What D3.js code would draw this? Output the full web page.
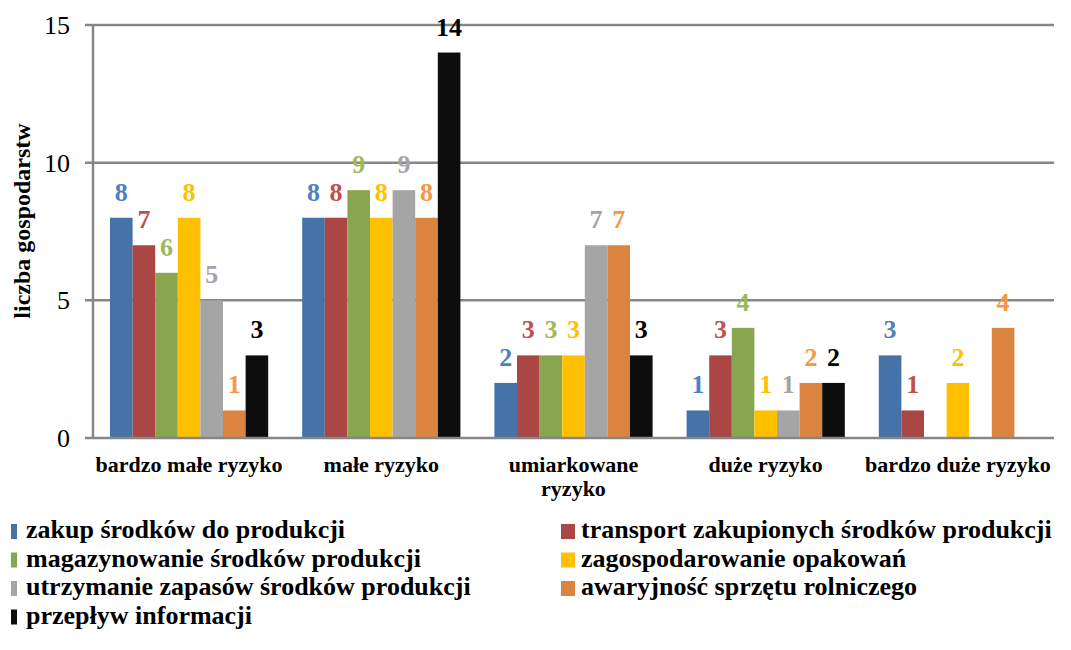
<!DOCTYPE html>
<html>
<head>
<meta charset="utf-8">
<script src="https://cdn.jsdelivr.net/npm/d3@7"></script>
<style>
  body { margin: 0; background: #fff; }
</style>
</head>
<body>
<svg id="chart" width="1071" height="650" font-family="'Liberation Serif', 'DejaVu Serif', 'Times New Roman', serif"></svg>
<script>
// categories and series
const categories = ['bardzo małe ryzyko', 'małe ryzyko', 'umiarkowane ryzyko', 'duże ryzyko', 'bardzo duże ryzyko'];
const categoryLines = [['bardzo małe ryzyko'], ['małe ryzyko'], ['umiarkowane', 'ryzyko'], ['duże ryzyko'], ['bardzo duże ryzyko']];
const seriesNames = [
    'zakup środków do produkcji',
    'transport zakupionych środków produkcji',
    'magazynowanie środków produkcji',
    'zagospodarowanie opakowań',
    'utrzymanie zapasów środków produkcji',
    'awaryjność sprzętu rolniczego',
    'przepływ informacji'
];
const zakup = [8, 8, 2, 1, 3];
const transport = [7, 8, 3, 3, 1];
const magazynowanie = [6, 9, 3, 4, 0];
const opakowania = [8, 8, 3, 1, 2];
const zapasy = [5, 9, 7, 1, 0];
const awaryjnosc = [1, 8, 7, 2, 4];
const informacja = [3, 14, 3, 2, 0];
const yTicks = [0, 5, 10, 15];

const barColors = ['#4572A7', '#AA4643', '#89A54E', '#FFC000', '#A5A5A5', '#DB843D', '#0D0D0D'];
const labelColors = ['#4F81BD', '#C0504D', '#9BBB59', '#FFC000', '#A5A5A5', '#F79646', '#000000'];

const allSeries = [zakup, transport, magazynowanie, opakowania, zapasy, awaryjnosc, informacja];

const plot = {left: 93, right: 1054, top: 25, bottom: 438};
const svg = d3.select('#chart');

const yScale = d3.scaleLinear().domain([0, 15]).range([plot.bottom, plot.top]);
const xScale = d3.scaleBand().domain(categories).range([plot.left, plot.right]).padding(0);
const groupGap = 17;
const innerScale = d3.scaleBand()
        .domain(d3.range(seriesNames.length))
        .range([groupGap, xScale.bandwidth() - groupGap])
        .padding(0);

// gridlines
svg.append('g')
    .selectAll('line')
    .data(yTicks.filter(t => t > 0))
    .enter()
    .append('line')
        .attr('x1', plot.left - 8)
        .attr('x2', plot.right)
        .attr('y1', d => yScale(d))
        .attr('y2', d => yScale(d))
        .attr('stroke', '#868686')
        .attr('stroke-width', 2.5);

// bars
const barData = [];
categories.forEach((cat, i) => {
    allSeries.forEach((s, j) => {
        barData.push({cat: cat, series: j, value: s[i]});
    });
});

svg.append('g')
    .selectAll('rect')
    .data(barData)
    .enter()
    .append('rect')
        .attr('x', d => xScale(d.cat) + innerScale(d.series))
        .attr('y', d => yScale(d.value))
        .attr('width', innerScale.bandwidth())
        .attr('height', d => yScale(0) - yScale(d.value))
        .attr('fill', d => barColors[d.series]);

// value labels
svg.append('g')
    .selectAll('text')
    .data(barData.filter(d => d.value > 0))
    .enter()
    .append('text')
        .attr('x', d => xScale(d.cat) + innerScale(d.series) + innerScale.bandwidth() / 2)
        .attr('y', d => yScale(d.value) - 17)
        .attr('text-anchor', 'middle')
        .attr('font-size', 26)
        .attr('font-weight', 'bold')
        .attr('fill', d => labelColors[d.series])
        .text(d => d.value);

// axes
svg.append('line')
    .attr('x1', plot.left).attr('x2', plot.left)
    .attr('y1', plot.top).attr('y2', plot.bottom)
    .attr('stroke', '#868686').attr('stroke-width', 2.5);
svg.append('line')
    .attr('x1', plot.left - 8).attr('x2', plot.right)
    .attr('y1', plot.bottom).attr('y2', plot.bottom)
    .attr('stroke', '#868686').attr('stroke-width', 2.5);

// y tick labels
svg.append('g')
    .selectAll('text')
    .data(yTicks)
    .enter()
    .append('text')
        .attr('x', 70)
        .attr('y', d => yScale(d) + 9)
        .attr('text-anchor', 'end')
        .attr('font-size', 26)
        .attr('fill', '#000')
        .text(d => d);

// y title
svg.append('text')
    .attr('transform', 'translate(30, 221) rotate(-90)')
    .attr('text-anchor', 'middle')
    .attr('font-size', 24)
    .attr('font-weight', 'bold')
    .text('liczba gospodarstw');

// category labels
const catLabels = svg.append('g')
    .selectAll('text')
    .data(categories)
    .enter()
    .append('text')
        .attr('x', d => xScale(d) + xScale.bandwidth() / 2)
        .attr('y', 472)
        .attr('text-anchor', 'middle')
        .attr('font-size', 22)
        .attr('font-weight', 'bold');
catLabels.each(function(d, i) {
    const t = d3.select(this);
    categoryLines[i].forEach((line, k) => {
        t.append('tspan')
            .attr('x', xScale(d) + xScale.bandwidth() / 2)
            .attr('dy', k === 0 ? 0 : 24)
            .text(line);
    });
});

// legend
const legendX = [11, 561];
const legendSwatchW = [6, 14];
const legendTextX = [26, 581];
const legend = svg.append('g')
    .selectAll('g')
    .data(seriesNames)
    .enter()
    .append('g')
        .attr('transform', (d, i) => `translate(0, ${538 + Math.floor(i / 2) * 28.5})`);
legend.append('rect')
    .attr('x', (d, i) => legendX[i % 2])
    .attr('y', -14)
    .attr('width', (d, i) => legendSwatchW[i % 2])
    .attr('height', 15)
    .attr('fill', (d, i) => barColors[i]);
legend.append('text')
    .attr('x', (d, i) => legendTextX[i % 2])
    .attr('y', 0)
    .attr('font-size', 26)
    .attr('font-weight', 'bold')
    .text(d => d);
</script>
</body>
</html>
